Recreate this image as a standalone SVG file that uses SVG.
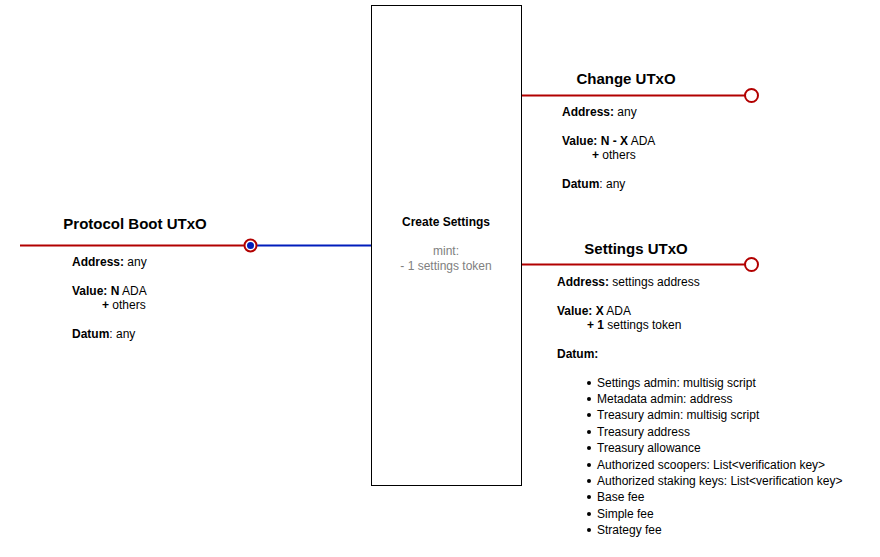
<svg xmlns="http://www.w3.org/2000/svg" width="880" height="557" viewBox="0 0 880 557">
<style>
text{font-family:"Liberation Sans",Arial,sans-serif;font-size:12px;fill:#000}
.t{font-size:15px;font-weight:bold;text-anchor:middle}
b,.b{font-weight:bold}
.g{fill:#808080;text-anchor:middle}
.red{stroke:#B20000;stroke-width:2;fill:none}
.blue{stroke:#001DBC;stroke-width:2;fill:none}
.port{fill:#fff;stroke:#B20000;stroke-width:2}
</style>
<rect width="880" height="557" fill="#fff"/>
<g id="connectors">
<line class="red" x1="20" y1="245.5" x2="244" y2="245.5"/>
<line class="blue" x1="256" y1="245.5" x2="371" y2="245.5"/>
<line class="red" x1="521.5" y1="95.5" x2="745" y2="95.5"/>
<line class="red" x1="521.5" y1="264.5" x2="745" y2="264.5"/>
</g>
<g id="create-settings">
<rect x="371.5" y="5.5" width="150" height="480" fill="#fff" stroke="#000" stroke-width="1"/>
<text x="446" y="226" class="b" text-anchor="middle">Create Settings</text>
<text x="446" y="255" class="g">mint:</text>
<text x="446" y="270" class="g">- 1 settings token</text>
</g>
<g id="protocol-boot">
<circle class="port" cx="250.5" cy="245.5" r="6"/>
<circle cx="250.5" cy="245.5" r="3.5" fill="#001DBC"/>
<text x="135" y="229" class="t">Protocol Boot UTxO</text>
<text x="72" y="266"><tspan class="b">Address:</tspan> any</text>
<text x="72" y="295"><tspan class="b">Value: N</tspan> ADA</text>
<text x="102" y="309"><tspan class="b">+</tspan> others</text>
<text x="72" y="338"><tspan class="b">Datum</tspan>: any</text>
</g>
<g id="change-utxo">
<circle class="port" cx="751.5" cy="95.5" r="6.5"/>
<text x="626" y="84" class="t">Change UTxO</text>
<text x="562" y="116"><tspan class="b">Address:</tspan> any</text>
<text x="562" y="145"><tspan class="b">Value: N - X</tspan> ADA</text>
<text x="592" y="159"><tspan class="b">+</tspan> others</text>
<text x="562" y="188"><tspan class="b">Datum</tspan>: any</text>
</g>
<g id="settings-utxo">
<circle class="port" cx="751.5" cy="264.5" r="6.5"/>
<text x="636" y="254" class="t">Settings UTxO</text>
<text x="557" y="286"><tspan class="b">Address:</tspan> settings address</text>
<text x="557" y="315"><tspan class="b">Value: X</tspan> ADA</text>
<text x="587" y="329"><tspan class="b">+ 1</tspan> settings token</text>
<text x="557" y="358" class="b">Datum:</text>
<g fill="#000">
<circle cx="589" cy="383" r="2"/><circle cx="589" cy="399" r="2"/><circle cx="589" cy="415" r="2"/><circle cx="589" cy="432" r="2"/><circle cx="589" cy="448" r="2"/><circle cx="589" cy="465" r="2"/><circle cx="589" cy="481" r="2"/><circle cx="589" cy="497" r="2"/><circle cx="589" cy="514" r="2"/><circle cx="589" cy="530" r="2"/>
</g>
<text x="597" y="387">Settings admin: multisig script</text>
<text x="597" y="403">Metadata admin: address</text>
<text x="597" y="419">Treasury admin: multisig script</text>
<text x="597" y="436">Treasury address</text>
<text x="597" y="452">Treasury allowance</text>
<text x="597" y="469">Authorized scoopers: List&lt;verification key&gt;</text>
<text x="597" y="485">Authorized staking keys: List&lt;verification key&gt;</text>
<text x="597" y="501">Base fee</text>
<text x="597" y="518">Simple fee</text>
<text x="597" y="534">Strategy fee</text>
</g>
</svg>
